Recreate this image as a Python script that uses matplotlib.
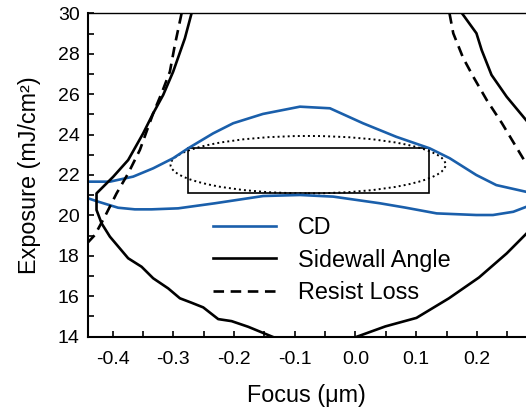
import numpy as np
import matplotlib
matplotlib.use("Agg")
from matplotlib import pyplot as plt
from matplotlib.patches import Ellipse, Rectangle
from matplotlib.ticker import MultipleLocator, FormatStrFormatter

plt.rcParams['font.family'] = ['Liberation Sans', 'DejaVu Sans']
plt.rcParams['axes.unicode_minus'] = False

# CD contour (upper and lower halves)
cd_up_x = [-0.4407, -0.4044, -0.366, -0.3331, -0.3002, -0.2755, -0.2343, -0.2013, -0.1524,
           -0.0914, -0.042, 0.0124, 0.0672, 0.1222, 0.1552, 0.199, 0.232, 0.2809]
cd_up_y = [21.67, 21.67, 21.92, 22.33, 22.83, 23.32, 24.06, 24.56, 25.02,
           25.38, 25.30, 24.56, 23.89, 23.32, 22.83, 22.0, 21.50, 21.17]
cd_lo_x = [-0.4407, -0.4237, -0.3908, -0.3633, -0.3358, -0.2919, -0.2315, -0.1519, -0.0914,
           -0.0366, 0.0404, 0.0815, 0.1338, 0.199, 0.2265, 0.26, 0.2809]
cd_lo_y = [20.85, 20.68, 20.38, 20.30, 20.30, 20.35, 20.60, 20.96, 21.01,
           20.93, 20.60, 20.39, 20.10, 20.02, 20.02, 20.18, 20.42]

# Sidewall angle contour
swa_left_x = [-0.2699, -0.2809, -0.3002, -0.3166, -0.3331, -0.3496, -0.3743, -0.399, -0.4264,
              -0.4264, -0.4181, -0.4044, -0.3743, -0.3522, -0.3331, -0.3084, -0.2891, -0.2699,
              -0.2507, -0.226, -0.204, -0.1766, -0.137]
swa_left_y = [30.0, 28.76, 27.11, 25.96, 25.05, 24.06, 22.74, 21.91, 21.09,
              20.27, 19.61, 18.95, 17.88, 17.46, 16.89, 16.39, 15.90, 15.68,
              15.45, 14.87, 14.77, 14.49, 14.0]
swa_rtop_x = [0.1755, 0.1993, 0.2079, 0.2241, 0.2491, 0.2809]
swa_rtop_y = [30.0, 29.01, 28.18, 26.95, 25.87, 24.72]
swa_rbot_x = [0.0025, 0.0494, 0.1005, 0.154, 0.2035, 0.2491, 0.2809]
swa_rbot_y = [14.0, 14.51, 14.93, 15.90, 16.93, 18.12, 19.08]

# Resist loss contour
rl_left_x = [-0.2863, -0.2974, -0.3056, -0.3193, -0.3331, -0.355, -0.3743, -0.3934, -0.4127,
             -0.4292, -0.4407]
rl_left_y = [30.0, 28.43, 27.11, 26.04, 25.05, 23.24, 22.08, 21.09, 19.94, 19.03, 18.66]
rl_right_x = [0.1549, 0.1611, 0.1774, 0.1941, 0.2162, 0.2413, 0.2809]
rl_right_y = [30.0, 29.01, 27.79, 26.86, 25.71, 24.56, 22.58]

# process window: ellipse and rectangle
ell_center = (-0.078, 22.51)
ell_width = 0.453
ell_height = 2.84
rect_x = (-0.275, 0.1206)
rect_y = (21.09, 23.32)

blue = "#1a5fab"

fig = plt.figure(figsize=(5.26, 4.09), dpi=100)
ax = fig.add_axes([0.167, 0.1768, 0.833, 0.7907])

ax.plot(cd_up_x, cd_up_y, color=blue, linewidth=1.9, label="CD")
ax.plot(cd_lo_x, cd_lo_y, color=blue, linewidth=1.9)
ax.plot(swa_left_x, swa_left_y, color="black", linewidth=1.9, label="Sidewall Angle")
ax.plot(swa_rtop_x, swa_rtop_y, color="black", linewidth=1.9)
ax.plot(swa_rbot_x, swa_rbot_y, color="black", linewidth=1.9)
ax.plot(rl_left_x, rl_left_y, color="black", linewidth=1.9, linestyle=(0, (4, 2.5)), label="Resist Loss")
ax.plot(rl_right_x, rl_right_y, color="black", linewidth=1.9, linestyle=(0, (4, 2.5)))

ax.add_patch(Ellipse(ell_center, ell_width, ell_height, fill=False, edgecolor="black",
                     linewidth=1.4, linestyle=(0, (1, 1.6))))
ax.add_patch(Rectangle((rect_x[0], rect_y[0]), rect_x[1] - rect_x[0], rect_y[1] - rect_y[0],
                       fill=False, edgecolor="black", linewidth=1.2))

ax.set_xlim(-0.4407, 0.2809)
ax.set_ylim(14, 30)
ax.xaxis.set_major_locator(MultipleLocator(0.1))
ax.xaxis.set_minor_locator(MultipleLocator(0.05))
ax.xaxis.set_major_formatter(FormatStrFormatter("%.1f"))
ax.yaxis.set_major_locator(MultipleLocator(2))
ax.yaxis.set_minor_locator(MultipleLocator(1))
ax.tick_params(which="both", direction="in", length=4, width=1.2, labelsize=14, pad=6)
ax.tick_params(axis="x", pad=10)
ax.spines["right"].set_visible(False)
ax.spines["top"].set_linewidth(1.0)
ax.spines["left"].set_linewidth(1.5)
ax.spines["bottom"].set_linewidth(1.5)

ax.set_xlabel("Focus (\u03bcm)", fontsize=16.8, labelpad=12)
ax.set_ylabel("Exposure (mJ/cm\u00b2)", fontsize=16.8, labelpad=12)

ax.legend(loc="center left", bbox_to_anchor=(0.404, 0.364), bbox_transform=fig.transFigure,
          frameon=False, fontsize=16.8, handlelength=2.7, handletextpad=0.95,
          labelspacing=0.42, borderpad=0, borderaxespad=0)

fig.savefig("out.png", dpi=100)
